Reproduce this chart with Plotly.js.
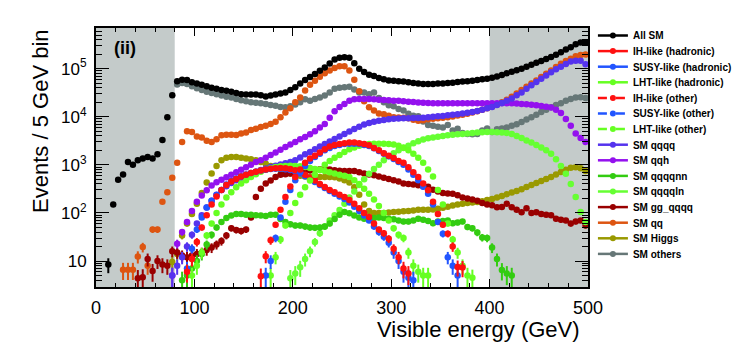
<!DOCTYPE html>
<html>
<head>
<meta charset="utf-8">
<script src="https://cdn.plot.ly/plotly-3.0.1.min.js"></script>
<style>body{margin:0;background:#fff}#chart{width:735px;height:349px}</style>
</head>
<body>
<div id="chart"></div>
<script>
// bin centres, 5 GeV bins
const energy = [
  2.5, 7.5, 12.5, 17.5, 22.5, 27.5, 32.5, 37.5, 42.5, 47.5,
  52.5, 57.5, 62.5, 67.5, 72.5, 77.5, 82.5, 87.5, 92.5, 97.5,
  102.5, 107.5, 112.5, 117.5, 122.5, 127.5, 132.5, 137.5, 142.5, 147.5,
  152.5, 157.5, 162.5, 167.5, 172.5, 177.5, 182.5, 187.5, 192.5, 197.5,
  202.5, 207.5, 212.5, 217.5, 222.5, 227.5, 232.5, 237.5, 242.5, 247.5,
  252.5, 257.5, 262.5, 267.5, 272.5, 277.5, 282.5, 287.5, 292.5, 297.5,
  302.5, 307.5, 312.5, 317.5, 322.5, 327.5, 332.5, 337.5, 342.5, 347.5,
  352.5, 357.5, 362.5, 367.5, 372.5, 377.5, 382.5, 387.5, 392.5, 397.5,
  402.5, 407.5, 412.5, 417.5, 422.5, 427.5, 432.5, 437.5, 442.5, 447.5,
  452.5, 457.5, 462.5, 467.5, 472.5, 477.5, 482.5, 487.5, 492.5, 497.5
]

// each series starts at the bin given by its *From value
const allSMFrom = 12.5
const allSM = [
  8.5, 150, 490, 630, 1150, 1000, 1250, 1350,
  1450, 1350, 1650, 3300, 9800, 28000, 55000, 59000, 58000, 52000,
  49000, 46500, 43000, 40000, 38000, 36000, 34500, 33000, 31000, 29500,
  29000, 29000, 29000, 28000, 26500, 27500, 29000, 30500, 32000, 36000,
  41000, 49000, 58000, 67000, 77000, 90000, 106000, 128000, 154000, 168000,
  172000, 168000, 129000, 100000, 85000, 75000, 70000, 64000, 60000, 57000,
  56000, 55000, 54000, 52000, 50000, 49000, 48000, 48000, 48000, 49000,
  49000, 50000, 51000, 53000, 54000, 55000, 56000, 58000, 60000, 62000,
  65000, 69000, 74000, 80000, 86000, 93000, 100000, 110000, 121000, 132000,
  144000, 158000, 174000, 195000, 220000, 250000, 280000, 320000, 350000, 350000
]

const ihHadFrom = 167.5
const ihHad = [
  4.8, 12.5, 27, 57, 116, 215, 355,
  560, 800, 1100, 1350, 1550, 1800, 2100, 2400, 2600, 2700,
  2800, 2900, 2900, 2800, 2700, 2550, 2250, 2000, 1750, 1550,
  1380, 1200, 1100, 890, 700, 560, 410, 295, 170, 95,
  57, 37, 20, 7.5, 7.3
]

const susyHadFrom = 172.5
const susyHad = [
  5, 10, 30, 80, 170, 300,
  480, 700, 950, 1200, 1450, 1700, 2000, 2250, 2450, 2600,
  2700, 2750, 2750, 2700, 2600, 2450, 2200, 1950, 1700, 1500,
  1320, 1150, 1000, 800, 620, 480, 350, 250, 150, 65,
  37, 12, 8, 5
]

const lhtHadFrom = 177.5
const lhtHad = [
  5, 12, 28, 55, 100,
  160, 240, 340, 470, 620, 800, 1000, 1200, 1400, 1600,
  1850, 2100, 2300, 2500, 2650, 2700, 2750, 2750, 2750, 2700,
  2650, 2500, 2300, 2000, 1700, 1400, 1100, 800, 575, 300,
  150, 60, 28, 15, 8, 5, 4.5
]

const ihOtherFrom = 92.5
const ihOther = [
  6, 11,
  25, 50, 90, 150, 220, 300, 380, 450, 510, 570,
  620, 680, 720, 760, 800, 830, 850, 860, 850, 820,
  770, 700, 620, 540, 470, 400, 345, 300, 270, 240,
  215, 185, 155, 125, 100, 82, 60, 45, 38, 29,
  18, 12, 7, 5.5
]

const susyOtherFrom = 92.5
const susyOther = [
  7, 18,
  45, 80, 130, 180, 235, 300, 390, 460, 520, 580,
  630, 680, 720, 760, 790, 820, 830, 830, 810, 780,
  730, 660, 580, 510, 440, 380, 330, 285, 250, 220,
  195, 165, 135, 110, 88, 70, 52, 40, 32, 24,
  15, 10, 6, 4.5, 4
]

const lhtOtherFrom = 97.5
const lhtOther = [
  5,
  8, 15, 34, 60, 100, 150, 210, 270, 340, 410,
  480, 560, 640, 720, 790, 850, 900, 930, 950, 960,
  950, 930, 900, 860, 820, 780, 740, 700, 660, 620,
  590, 560, 480, 400, 320, 250, 190, 140, 100, 70,
  48, 35, 30, 15, 8, 6, 5, 5
]

const qqqqFrom = 77.5
const qqqq = [
  5, 8, 12, 20, 35,
  60, 90, 130, 180, 240, 300, 360, 420, 480, 540,
  600, 660, 720, 780, 840, 900, 960, 1020, 1080, 1150,
  1250, 1420, 1650, 1850, 2100, 2400, 2700, 3050, 3450, 3900,
  4400, 4950, 5550, 6200, 6900, 7400, 7900, 8300, 8600, 8900,
  9100, 9200, 9300, 9350, 9400, 9400, 9500, 9800, 10000, 10200,
  10400, 10700, 11000, 11300, 11700, 12100, 12600, 13200, 14000, 15000,
  16000, 17500, 19300, 21500, 24000, 28000, 32000, 38000, 45000, 53000,
  62000, 72000, 84000, 97000, 110000, 125000, 140000, 146000, 146000, 124000
]

const qqhFrom = 77.5
const qqh = [
  5, 23, 40, 65, 110,
  170, 230, 295, 370, 435, 490, 550, 620, 700, 790,
  890, 1000, 1150, 1250, 1400, 1600, 1800, 2050, 2350, 2650,
  3000, 3400, 3800, 4300, 5000, 6000, 7100, 9500, 13000, 16000,
  18400, 21500, 23000, 23500, 23500, 23500, 23000, 22500, 22300, 22000,
  21500, 21500, 21000, 20500, 20200, 19800, 19500, 19300, 19100, 19000,
  19000, 19000, 19000, 19000, 19000, 19000, 19000, 19000, 19000, 19000,
  19000, 19000, 19000, 19000, 19000, 18800, 18500, 18200, 17800, 17300,
  16800, 16200, 15500, 14000, 12000, 9000, 6500, 4500, 3600, 3000
]

const qqqqnnFrom = 87.5
const qqqqnn = [
  4, 5, 7,
  10, 14, 22, 35, 50, 65, 78, 88, 95, 95,
  92, 92, 90, 88, 86, 92, 92, 75, 65, 58,
  55, 55, 52, 50, 49, 50, 52, 60, 75, 92,
  104, 98, 88, 80, 76, 76, 78, 80, 78, 76,
  74, 70, 66, 66, 70, 76, 72, 68, 61, 66,
  68, 70, 61, 63, 66, 51, 48, 39, 31, 30,
  19, 11, 6.5, 5.5, 5
]

const qqqqlnFrom = 197.5
const qqqqln = [
  4.4,
  5.5, 7.4, 11, 16, 25, 38, 52, 70, 90, 115,
  155, 210, 280, 380, 500, 650, 820, 1000, 1250, 1500,
  1750, 2000, 2250, 2500, 2800, 3100, 3350, 3550, 3700, 3850,
  4000, 4100, 4200, 4300, 4400, 4500, 4600, 4700, 4750, 4800,
  4800, 4750, 4700, 4600, 4400, 4000, 3600, 3200, 2900, 2600,
  2300, 2000, 1700, 1300, 950, 650, 400, 215, 104, 65
]

const ggqqqqFrom = 42.5
const ggqqqq = [
  4.4, 4.6,
  11, 6.2, 10, 8.5, 8, 16, 15, 13, 12, 13,
  14, 15, 17, 19, 22, 26, 34, 48, 44, 42,
  45, 80, 215, 320, 410, 470, 560, 620, 640, 660,
  690, 720, 740, 760, 790, 810, 830, 800, 770, 750,
  740, 740, 740, 700, 660, 630, 610, 570, 540, 510,
  480, 450, 410, 400, 390, 375, 360, 350, 305, 280,
  260, 255, 250, 233, 210, 200, 190, 180, 160, 150,
  145, 131, 133, 155, 131, 116, 103, 125, 100, 103,
  95, 92, 89, 76, 72, 70, 60, 66, 70, 55
]

const qqFrom = 27.5
const qq = [
  6.6, 6.6, 6.6, 12.4, 19.5,
  8, 45, 45, 170, 270, 540, 1100, 3000, 5000, 4800,
  3900, 3700, 3150, 3000, 3400, 4100, 4200, 4200, 4150, 4500,
  4700, 5300, 5600, 6100, 6500, 7100, 7900, 9700, 12300, 15000,
  20000, 25000, 35000, 46500, 56000, 68000, 80000, 91000, 103000, 112000,
  112000, 91000, 59000, 34000, 21000, 15700, 13500, 11700, 11300, 10500,
  9800, 9600, 9500, 9300, 8700, 8300, 8500, 8900, 9100, 9300,
  9500, 9800, 10100, 10600, 11000, 11500, 12200, 13000, 14000, 15000,
  16300, 18000, 20000, 22500, 26000, 30500, 36000, 42000, 49000, 57000,
  67000, 78000, 92000, 108000, 127000, 145000, 160000, 180000, 192000, 196000
]

const higgsFrom = 77.5
const higgs = [
  9.5, 14, 34, 60, 95,
  155, 260, 430, 660, 950, 1250, 1400, 1450, 1450, 1400,
  1350, 1300, 1250, 1150, 1050, 950, 880, 800, 730, 660,
  620, 590, 570, 560, 560, 560, 560, 560, 550, 520,
  480, 430, 340, 240, 150, 110, 100, 100, 100, 102,
  104, 106, 108, 110, 113, 116, 116, 116, 118, 122,
  128, 135, 142, 150, 155, 160, 164, 168, 175, 185,
  195, 210, 225, 245, 265, 285, 310, 345, 380, 420,
  460, 510, 560, 630, 710, 790, 870, 890, 850, 745
]

const othersFrom = 82.5
const others = [
  47000, 50000, 48000, 43000,
  39000, 36000, 33000, 31000, 29500, 27500, 26000, 25000, 23500, 22000,
  21000, 20000, 19500, 19000, 18500, 17500, 17000, 16000, 15700, 16500,
  18000, 20000, 23000, 21500, 23500, 25000, 27500, 32000, 38000, 40000,
  41000, 42000, 37000, 32000, 32000, 29500, 32000, 24500, 20000, 17300,
  16500, 14500, 13500, 11500, 10500, 10200, 8000, 6700, 6500, 6200,
  6000, 6700, 5200, 5600, 4600, 4400, 4300, 4400, 5200, 5700,
  4800, 5500, 5700, 6000, 6500, 7000, 7800, 8800, 9800, 11000,
  12500, 14000, 15700, 17500, 19000, 21500, 23500, 25000, 25500, 24500
]

function binsFrom(first, vals){
	let i = energy.indexOf(first)
	return energy.slice(i, i + vals.length)
}

// legend order
let series = [
	{name: 'All SM', y: allSM, from: allSMFrom, color: '#000000'},
	{name: 'IH-like (hadronic)', y: ihHad, from: ihHadFrom, color: '#ff1010'},
	{name: 'SUSY-like (hadronic)', y: susyHad, from: susyHadFrom, color: '#2255ff'},
	{name: 'LHT-like (hadronic)', y: lhtHad, from: lhtHadFrom, color: '#66ff22'},
	{name: 'IH-like (other)', y: ihOther, from: ihOtherFrom, color: '#ff1010', dash: 'dash'},
	{name: 'SUSY-like (other)', y: susyOther, from: susyOtherFrom, color: '#2255ff', dash: 'dash'},
	{name: 'LHT-like (other)', y: lhtOther, from: lhtOtherFrom, color: '#66ff22', dash: 'dash'},
	{name: 'SM qqqq', y: qqqq, from: qqqqFrom, color: '#5533ee'},
	{name: 'SM qqh', y: qqh, from: qqhFrom, color: '#9411ee'},
	{name: 'SM qqqqnn', y: qqqqnn, from: qqqqnnFrom, color: '#33cc11'},
	{name: 'SM qqqqln', y: qqqqln, from: qqqqlnFrom, color: '#66ff33'},
	{name: 'SM gg_qqqq', y: ggqqqq, from: ggqqqqFrom, color: '#990000'},
	{name: 'SM qq', y: qq, from: qqFrom, color: '#dd5511'},
	{name: 'SM Higgs', y: higgs, from: higgsFrom, color: '#999900'},
	{name: 'SM others', y: others, from: othersFrom, color: '#667777'}
]

// drawing order: backgrounds first, All SM on top
let drawOrder = [14, 13, 12, 11, 10, 9, 8, 7, 6, 5, 4, 3, 2, 1, 0]

let traces = []
for(let k of drawOrder){
	let s = series[k]
	traces.push({
		type: 'scatter',
		mode: 'markers',
		x: binsFrom(s.from, s.y),
		y: s.y,
		marker: {color: s.color, size: 6.5},
		error_y: {type: 'sqrt', color: s.color, thickness: 2, width: 0},
		showlegend: false,
		hoverinfo: 'skip'
	})
}
// legend-only entries with line + marker symbol
for(let s of series){
	traces.push({
		type: 'scatter',
		mode: 'lines+markers',
		x: [null],
		y: [null],
		name: s.name,
		line: {color: s.color, width: 2.5, dash: s.dash || 'solid'},
		marker: {color: s.color, size: 6}
	})
}

let font = 'Liberation Sans, Arial, sans-serif'

let layout = {
	width: 735,
	height: 349,
	margin: {l: 96, r: 147, t: 28, b: 62, autoexpand: false},
	paper_bgcolor: '#ffffff',
	plot_bgcolor: '#ffffff',
	font: {family: font, color: '#000'},
	showlegend: true,
	legend: {
		x: 1.01, xanchor: 'left', y: 1.0, yanchor: 'top',
		font: {family: font, size: 10, weight: 'bold', color: '#000'},
		bgcolor: 'rgba(0,0,0,0)',
		itemwidth: 30,
		tracegroupgap: 0
	},
	xaxis: {
		range: [0, 500],
		dtick: 100,
		ticks: 'inside', ticklen: 8, tickwidth: 1, tickcolor: '#000',
		minor: {dtick: 20, ticks: 'inside', ticklen: 4, tickcolor: '#000'},
		showline: true, linewidth: 2, linecolor: '#000', mirror: 'ticks',
		showgrid: false, zeroline: false,
		tickfont: {family: font, size: 18},
		ticklabelstandoff: 3
	},
	yaxis: {
		type: 'log',
		range: [0.46, 5.845],
		tickmode: 'array',
		tickvals: [10, 100, 1000, 10000, 100000],
		ticktext: ['10', '10<sup>2</sup>', '10<sup>3</sup>', '10<sup>4</sup>', '10<sup>5</sup>'],
		ticks: 'inside', ticklen: 13, tickwidth: 1, tickcolor: '#000',
		minor: {dtick: 'D1', ticks: 'inside', ticklen: 6, tickcolor: '#000'},
		showline: true, linewidth: 2, linecolor: '#000', mirror: 'ticks',
		showgrid: false, zeroline: false,
		tickfont: {family: font, size: 17},
		ticklabelstandoff: 4
	},
	shapes: [
		{type: 'rect', xref: 'x', yref: 'paper', x0: 0, x1: 80, y0: 0, y1: 1,
		 fillcolor: '#c4cbca', line: {width: 0}, layer: 'below'},
		{type: 'rect', xref: 'x', yref: 'paper', x0: 400, x1: 500, y0: 0, y1: 1,
		 fillcolor: '#c4cbca', line: {width: 0}, layer: 'below'}
	],
	annotations: [
		{text: '<b>(ii)</b>', xref: 'paper', yref: 'paper', x: 0.033, y: 0.922,
		 xanchor: 'left', yanchor: 'middle', showarrow: false,
		 font: {family: font, size: 18}},
		{text: 'Visible energy (GeV)', xref: 'paper', yref: 'paper', x: 0.567, y: -0.163,
		 xanchor: 'left', yanchor: 'middle', showarrow: false,
		 font: {family: font, size: 22}},
		{text: 'Events / 5 GeV bin', xref: 'paper', yref: 'paper', x: -0.113, y: 1.0,
		 xanchor: 'center', yanchor: 'top', textangle: -90, showarrow: false,
		 font: {family: font, size: 22}}
	]
}

Plotly.newPlot('chart', traces, layout, {staticPlot: true}).then(function(gd){
	// squeeze the legend rows to the reference spacing
	let items = gd.querySelectorAll('.legend .traces')
	if(!items.length) return
	let m = /translate\(([-\d.]+)[ ,]+([-\d.]+)\)/.exec(items[0].getAttribute('transform') || '')
	let x0 = m ? parseFloat(m[1]) : 0
	let y0 = m ? parseFloat(m[2]) : 0
	items.forEach(function(el, i){
		el.setAttribute('transform', 'translate(' + x0 + ',' + (y0 - 7 + i * 15.6) + ')')
	})
})
</script>
</body>
</html>
